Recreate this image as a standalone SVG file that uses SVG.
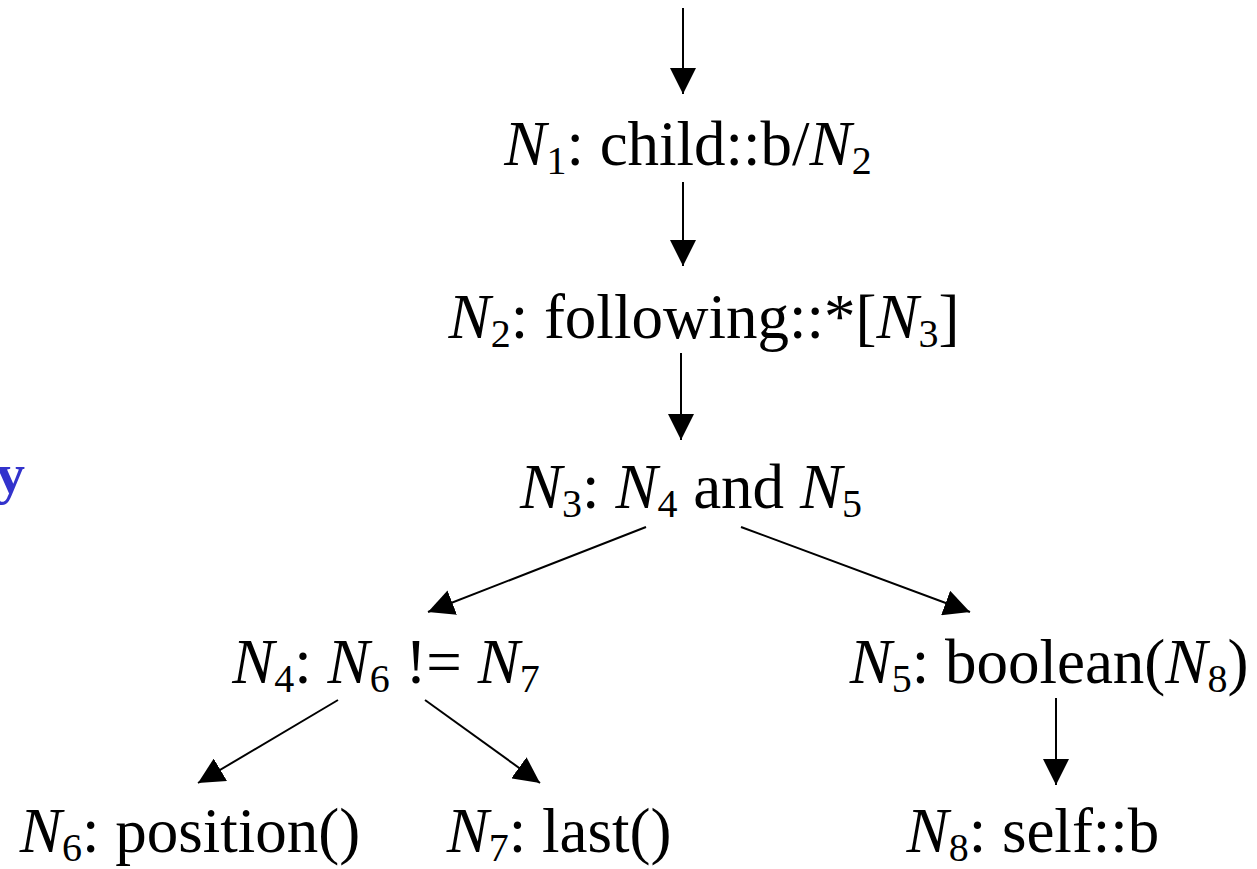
<svg xmlns="http://www.w3.org/2000/svg" width="1257" height="869" viewBox="0 0 1257 869">
<style>
text{font-family:'Liberation Serif','Times New Roman',Times,serif}
.t{font-size:63px;fill:#000;text-anchor:middle}
.i{font-style:italic}
.s{font-size:40px}
.c line{stroke:#000;stroke-width:2;marker-end:url(#ah)}
</style>
<defs>
<marker id="ah" markerUnits="userSpaceOnUse" markerWidth="26" markerHeight="26" viewBox="0 -12 24 24" refX="24" refY="0" orient="auto">
<path d="M0,-12 L24,0 L0,12 z" fill="#000"/>
</marker>
</defs>
<rect width="1257" height="869" fill="#fff"/>
<text x="-4" y="493" font-family="Liberation Serif, Times New Roman, serif" font-size="58" font-weight="bold" fill="#3333CC">y</text>
<g class="c" id="connectors">
<line x1="683" y1="8" x2="683" y2="94"/>
<line x1="683" y1="182" x2="683" y2="266"/>
<line x1="681" y1="353" x2="681" y2="440"/>
<line x1="646" y1="527" x2="428" y2="612"/>
<line x1="741" y1="527" x2="970" y2="612"/>
<line x1="338" y1="700" x2="198" y2="783"/>
<line x1="425" y1="700" x2="540" y2="783"/>
<line x1="1056" y1="698" x2="1056" y2="785"/>
</g>
<g font-family="Liberation Serif, Times New Roman, serif">
<g id="n1"><text class="t" x="688" y="165"><tspan class="i">N</tspan><tspan class="s" dy="9">1</tspan><tspan dy="-9">: child::b/</tspan><tspan class="i">N</tspan><tspan class="s" dy="9">2</tspan></text></g>
<g id="n2"><text class="t" x="704" y="338"><tspan class="i">N</tspan><tspan class="s" dy="9">2</tspan><tspan dy="-9">: following::*[</tspan><tspan class="i">N</tspan><tspan class="s" dy="9">3</tspan><tspan dy="-9">]</tspan></text></g>
<g id="n3"><text class="t" x="691" y="508"><tspan class="i">N</tspan><tspan class="s" dy="9">3</tspan><tspan dy="-9">: </tspan><tspan class="i">N</tspan><tspan class="s" dy="9">4</tspan><tspan dy="-9"> and </tspan><tspan class="i">N</tspan><tspan class="s" dy="9">5</tspan></text></g>
<g id="n4"><text class="t" x="386" y="683"><tspan class="i">N</tspan><tspan class="s" dy="9">4</tspan><tspan dy="-9">: </tspan><tspan class="i">N</tspan><tspan class="s" dy="9">6</tspan><tspan dy="-9"> != </tspan><tspan class="i">N</tspan><tspan class="s" dy="9">7</tspan></text></g>
<g id="n5"><text class="t" x="1049" y="683"><tspan class="i">N</tspan><tspan class="s" dy="9">5</tspan><tspan dy="-9">: boolean(</tspan><tspan class="i">N</tspan><tspan class="s" dy="9">8</tspan><tspan dy="-9">)</tspan></text></g>
<g id="n6"><text class="t" x="190" y="852"><tspan class="i">N</tspan><tspan class="s" dy="9">6</tspan><tspan dy="-9">: position()</tspan></text></g>
<g id="n7"><text class="t" x="559" y="852"><tspan class="i">N</tspan><tspan class="s" dy="9">7</tspan><tspan dy="-9">: last()</tspan></text></g>
<g id="n8"><text class="t" x="1033" y="852"><tspan class="i">N</tspan><tspan class="s" dy="9">8</tspan><tspan dy="-9">: self::b</tspan></text></g>
</g>
</svg>
